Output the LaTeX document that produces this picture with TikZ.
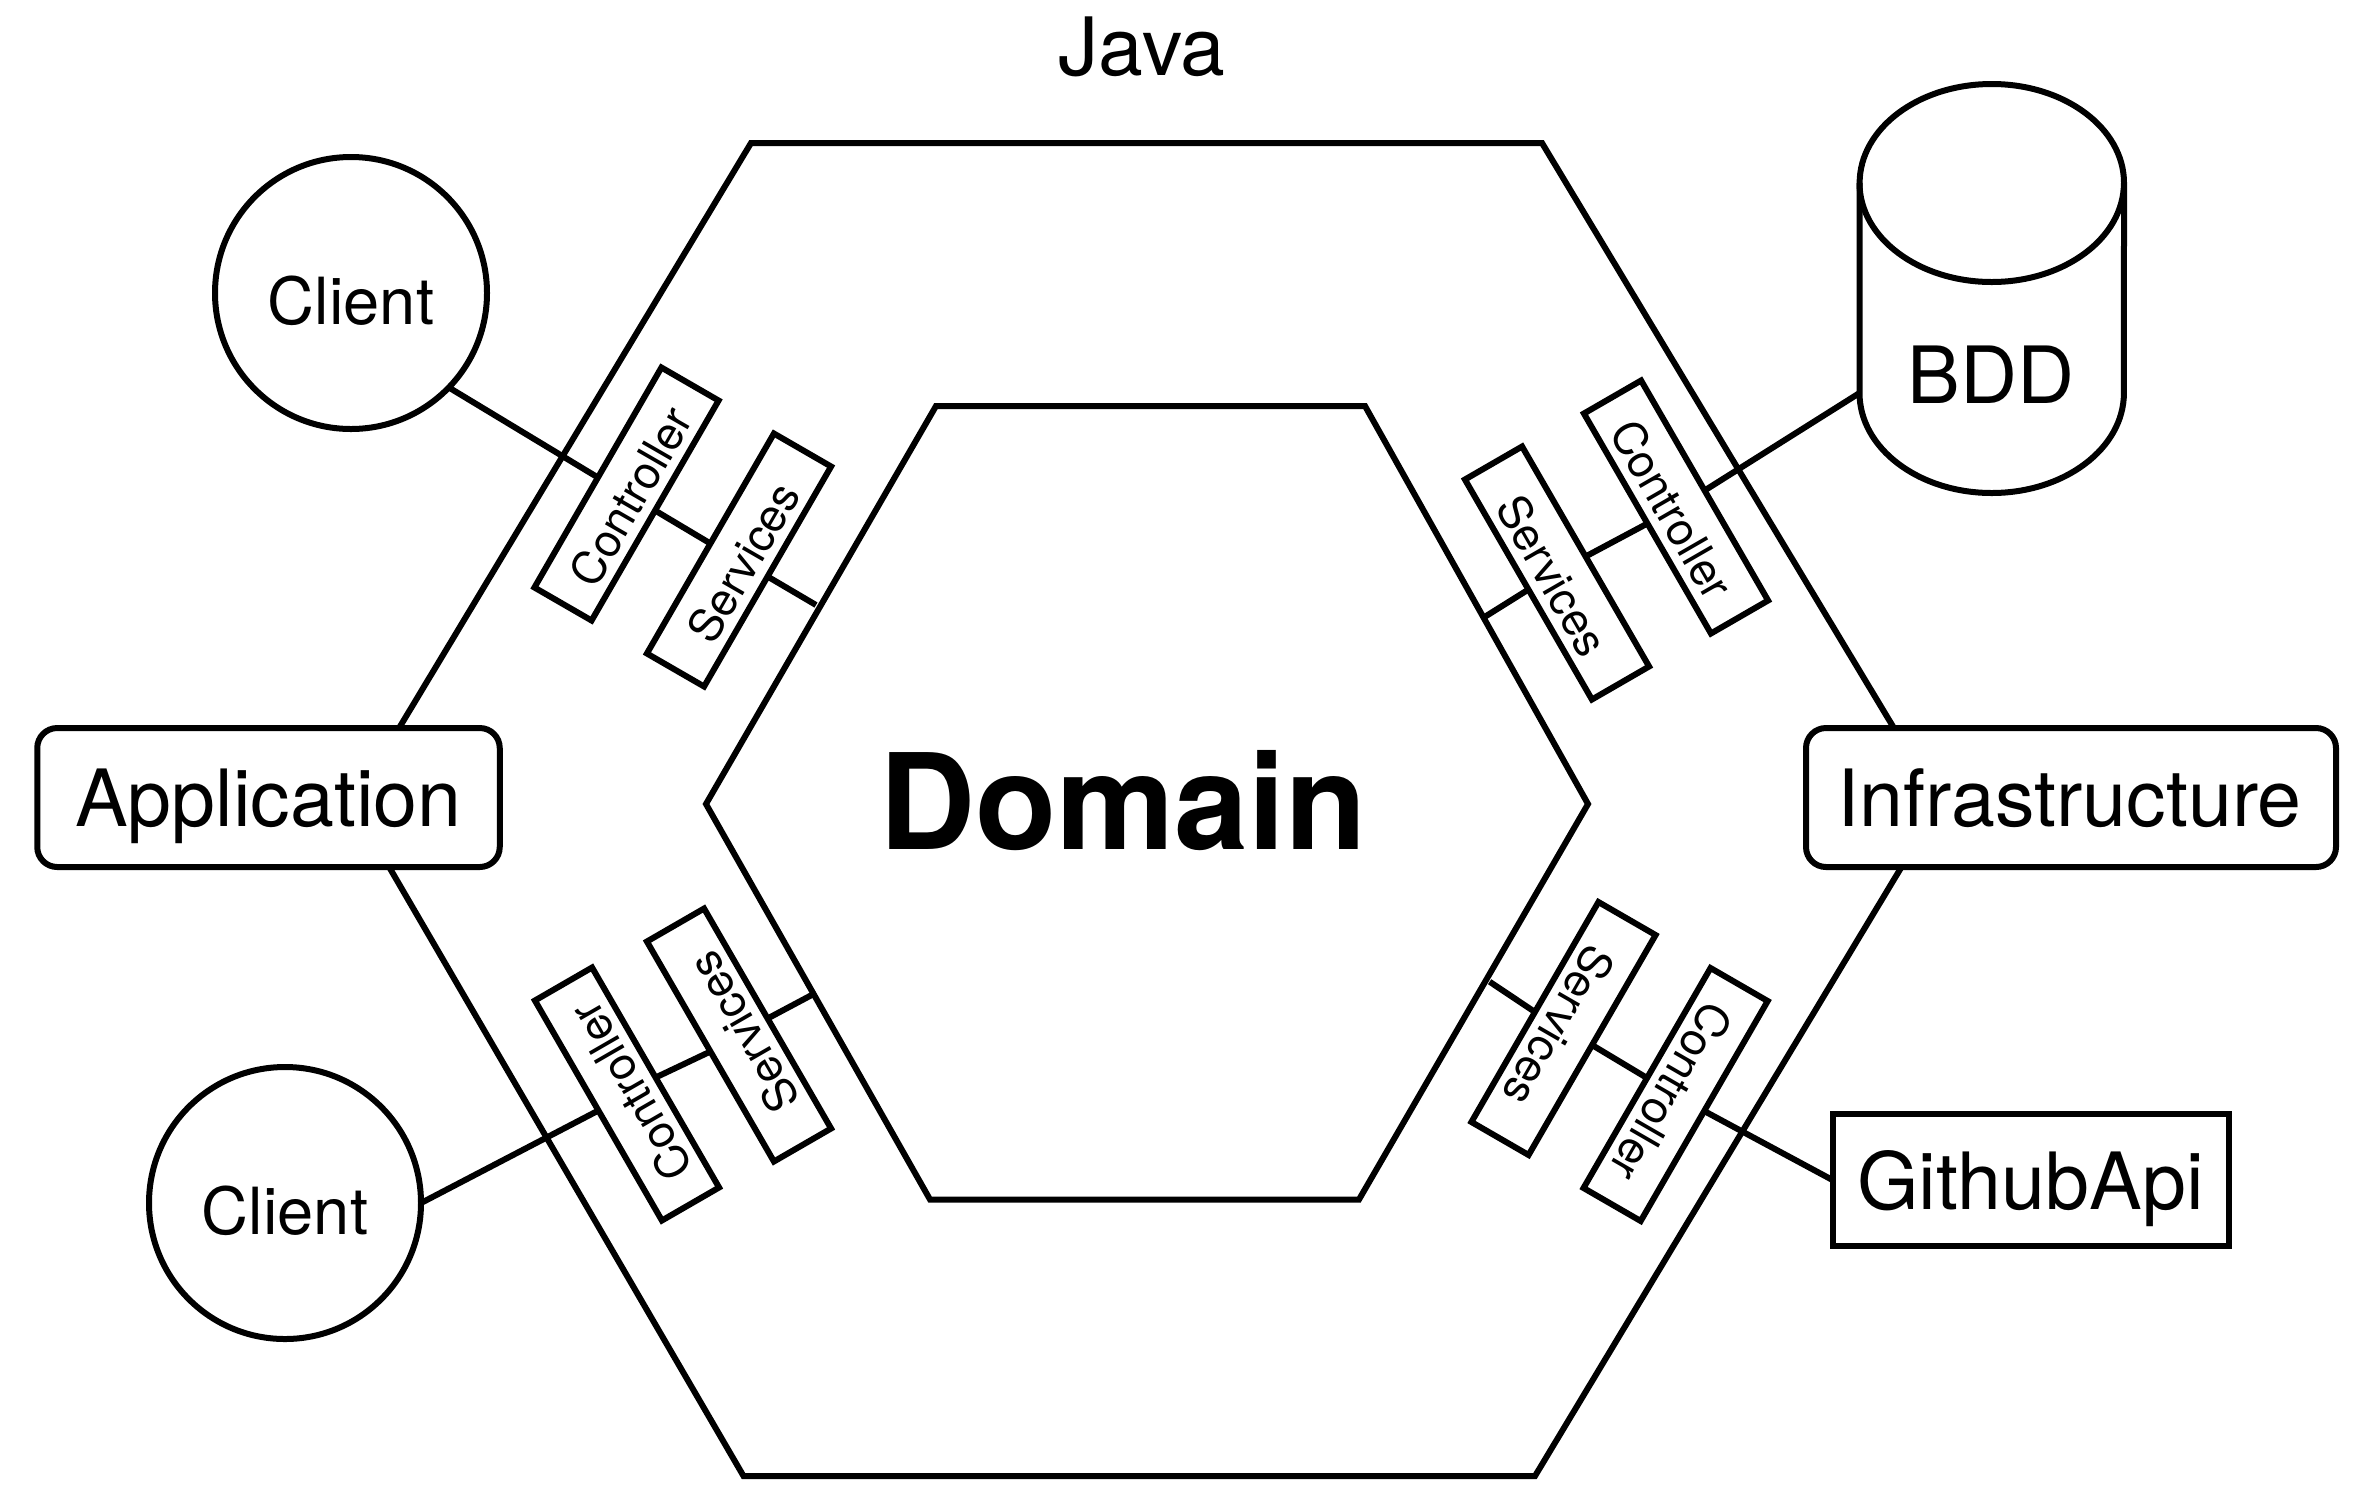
\documentclass[tikz,border=0pt]{standalone}
\usepackage{fontspec}
\setmainfont{TeX Gyre Heros}
\newcommand{\slottext}[1]{\raisebox{-21.5pt}[0pt][0pt]{#1}}
\newcommand{\clienttext}{\raisebox{-31.4pt}[0pt][0pt]{Client}}
\tikzset{
  lw/.style={line width=6pt},
  hexa/.style={lw,line join=miter},
  txt/.style={inner sep=0pt,outer sep=0pt,text=black},
  clientnode/.style={circle,draw,lw,fill=white,minimum size=272pt,inner sep=0pt,outer sep=0pt,font=\fontsize{65}{70}\selectfont},
  layerbox/.style={rectangle,draw,lw,fill=white,rounded corners=20pt,inner sep=0pt,outer sep=0pt,text depth=0pt,font=\fontsize{79}{84}\selectfont},
  slotbox/.style={rectangle,draw,lw,fill=white,minimum width=254pt,minimum height=66pt,inner sep=0pt,outer sep=0pt,font=\fontsize{45.5}{50}\selectfont},
  link/.style={lw,line cap=butt}
}
\begin{document}
\begin{tikzpicture}[x=1pt,y=-1pt]
\useasboundingbox (0,0) rectangle (2360,1484);
\fill[white] (0,0) rectangle (2360,1484);
% hexagons
\draw[hexa] (751,143) -- (1542,143) -- (1936,798) -- (1943,798) -- (1535,1476) -- (743.5,1476) -- (349,798) -- (357,798) -- cycle;
\draw[hexa] (936,406) -- (1365,406) -- (1588,804) -- (1359,1199.5) -- (930,1199.5) -- (706,804) -- cycle;
% outer nodes
\node[txt,font=\fontsize{80.5}{84}\selectfont] (java) at (1142,47) {Java};
\node[txt,font=\bfseries\fontsize{133}{138}\selectfont] (domain) at (1123,801) {Domain};
\node[clientnode] (c1) at (351,293) {\clienttext};
\node[clientnode] (c2) at (285,1203) {\clienttext};
\node[layerbox,minimum width=462.5pt,minimum height=139pt] (app) at (268.5,797.5) {Application};
\node[layerbox,minimum width=530pt,minimum height=139pt] (infra) at (2071,797.5) {\hspace*{-3pt}Infrastructure};
\node[rectangle,draw,lw,fill=white,minimum width=396pt,minimum height=132pt,inner sep=0pt,outer sep=0pt,text depth=0pt,font=\fontsize{79}{84}\selectfont] (gh) at (2030.5,1180) {GithubApi};
% database
\draw[lw,fill=white] (1859.5,183) -- (1859.5,393) arc[start angle=180,end angle=0,x radius=132.2,y radius=100] -- (2124,183)
  arc[start angle=0,end angle=-180,x radius=132.2,y radius=99];
\draw[lw] (1859.5,183) arc[start angle=180,end angle=0,x radius=132.2,y radius=99];
\node[txt,font=\fontsize{79}{84}\selectfont] (bdd) at (1991,375) {BDD};
\coordinate (bddside) at (1859.5,393);
% slots
\node[slotbox,rotate=60] (ctlTL) at (626.5,494) {\slottext{Controller}};
\node[slotbox,rotate=60] (svcTL) at (739,560) {\slottext{Services}};
\node[slotbox,rotate=-60] (ctlTR) at (1676,507) {\slottext{Controller}};
\node[slotbox,rotate=-60] (svcTR) at (1557,573) {\slottext{Services}};
\node[slotbox,rotate=120] (ctlBL) at (627,1094) {\slottext{Controller}};
\node[slotbox,rotate=120] (svcBL) at (739,1035) {\slottext{Services}};
\node[slotbox,rotate=-120] (ctlBR) at (1675.6,1094.5) {\slottext{Controller}};
\node[slotbox,rotate=-120] (svcBR) at (1563.5,1028.5) {\slottext{Services}};
% free ends on the inner hexagon
\coordinate (hTL) at (816,605);
\coordinate (hTR) at (1485,616.7);
\coordinate (hBL) at (811.7,995);
\coordinate (hBR) at (1489.6,981.7);
% connectors
\draw[link] (c1.-44) -- (ctlTL.north);
\draw[link] (ctlTL.south) -- (svcTL.north);
\draw[link] (svcTL.south) -- (hTL);
\draw[link] (bddside) -- (ctlTR.north);
\draw[link] (ctlTR.south) -- (svcTR.north);
\draw[link] (svcTR.south) -- (hTR);
\draw[link] (c2.east) -- (ctlBL.north);
\draw[link] (ctlBL.south) -- (svcBL.north);
\draw[link] (svcBL.south) -- (hBL);
\draw[link] (gh.west) -- (ctlBR.north);
\draw[link] (ctlBR.south) -- (svcBR.north);
\draw[link] (svcBR.south) -- (hBR);
\end{tikzpicture}
\end{document}
